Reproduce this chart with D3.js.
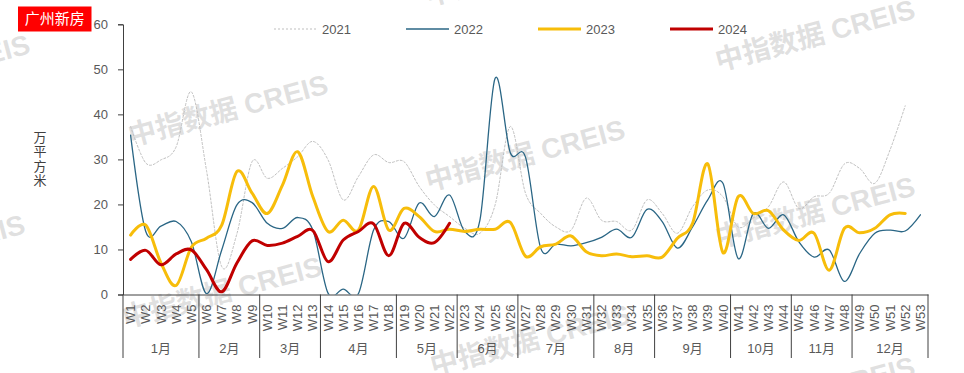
<!DOCTYPE html>
<html>
<head>
<meta charset="utf-8">
<script src="https://cdn.jsdelivr.net/npm/d3@7"></script>
<style>
body { margin: 0; background: #fff; }
svg text { font-family: "Liberation Sans", "Noto Sans CJK SC", sans-serif; }
</style>
</head>
<body>
<svg></svg>
<script>
// weekly new-home sales area, 万平方米
var weeks = d3.range(1, 54).map(function(i){ return 'W' + i; });

var months = [
  {name: '1月', from: 1, to: 5}, {name: '2月', from: 6, to: 9}, {name: '3月', from: 10, to: 13},
  {name: '4月', from: 14, to: 18}, {name: '5月', from: 19, to: 22}, {name: '6月', from: 23, to: 26},
  {name: '7月', from: 27, to: 31}, {name: '8月', from: 32, to: 35}, {name: '9月', from: 36, to: 40},
  {name: '10月', from: 41, to: 44}, {name: '11月', from: 45, to: 48}, {name: '12月', from: 49, to: 53}
];

var yTicks = [0, 10, 20, 30, 40, 50, 60];

var v2021 = [37.3, 29.2, 29.9, 32.8, 45, 27.5, 6.2, 13.5, 29.5, 25.8, 28, 30.6, 34, 29.9, 21, 26.2, 31, 29.3,
  29.5, 24, 19.9, 17.3, 14.7, 13.6, 19.9, 37.3, 22.5, 18, 15, 14.3, 21.4, 16.5, 16.2, 14.3, 21, 18, 13.6,
  19.5, 23.2, 21.7, 15, 17, 19.5, 25, 19.1, 21.7, 22.5, 29, 28, 24.7, 32.1, 41.9];

var v2022 = [35.4, 14, 15.2, 16.2, 11.7, 0.2, 9.9, 19.9, 20.4, 15.8, 14.7, 17.1, 14.3, 0.3, 1.2, 0.2, 14.3, 16.2,
  12.5, 20.3, 17.3, 22.1, 14, 16.5, 48, 31.5, 30.5, 10.3, 11.2, 10.8, 11.5, 12.7, 14.5, 12.7, 18.9, 16.2,
  10.3, 15, 21, 24.7, 8, 18, 14.7, 17.7, 11.7, 8.3, 9.9, 2.9, 9.1, 13.6, 14.3, 14.1, 17.7];

var v2023 = [13.2, 15.4, 7, 2, 10.5, 12.5, 15.4, 27.3, 22.5, 18, 24.3, 31.7, 21.7, 14, 16.5, 14.3, 24, 14.3,
  19.1, 17.3, 14, 14.5, 14, 14.5, 14.5, 16, 8.5, 10.6, 11.2, 13, 9.5, 8.6, 9, 8.4, 8.6, 8.3, 12.5, 15.8,
  29, 9.3, 21.7, 18, 18.6, 14.3, 12, 13.6, 5.4, 14.7, 13.7, 14.7, 17.7, 18];

var v2024 = [7.8, 9.8, 6.6, 9, 9.9, 5.5, 0.6, 7, 11.9, 10.9, 11.4, 12.9, 14.2, 7.3, 12.1, 14, 15.7, 8.6,
  15.8, 12.7, 11.5, 15.8];

var series = [
  {name: '2021', values: v2021, color: '#bfbfbf', width: 1, dash: '2,2'},
  {name: '2022', values: v2022, color: '#2a6685', width: 1.3, dash: null},
  {name: '2023', values: v2023, color: '#f7bd0a', width: 3, dash: null},
  {name: '2024', values: v2024, color: '#c00000', width: 3, dash: null}
];

var svgWidth = 964, svgHeight = 373;
var plotLeft = 123, plotRight = 928, plotTop = 24.3, plotBottom = 294.5;

var svg = d3.select('svg')
.attr('width', svgWidth)
.attr('height', svgHeight);

var xScale = d3.scaleBand()
.domain(weeks)
.range([plotLeft, plotRight])
.padding(0);

var yScale = d3.scaleLinear()
.domain([0, 60])
.range([plotBottom, plotTop]);

// clip like the plot area
svg.append('clipPath').attr('id', 'plot')
.append('rect')
.attr('x', plotLeft).attr('y', 0)
.attr('width', 940 - plotLeft).attr('height', plotBottom);

// watermark (under the marks)
var marks = [[-70, 70], [-75, 250], [228, 110], [222, 292], [525, -30], [525, 155], [530, 340], [815, 35], [815, 212], [815, 392]];
svg.append('g')
.attr('pointer-events', 'none')
.selectAll('text')
.data(marks)
.enter()
.append('text')
.attr('transform', function(d){ return 'translate(' + d[0] + ',' + d[1] + ') rotate(-15)'; })
.attr('text-anchor', 'middle')
.attr('dy', '0.35em')
.attr('font-size', 28)
.attr('font-weight', 'bold')
.attr('fill', '#a6a6a6')
.attr('fill-opacity', 0.35)
.text('中指数据 CREIS');

// y axis
var y_axis = d3.axisLeft(yScale)
.tickValues(yTicks)
.tickSize(5)
.tickPadding(10);

var gy = svg.append('g')
.attr('transform', 'translate(' + plotLeft + ',0)')
.call(y_axis);
gy.select('.domain').attr('stroke', '#404040');
gy.selectAll('.tick line').attr('stroke', '#404040');
gy.selectAll('.tick text').attr('font-size', 13).attr('fill', '#595959')
.attr('font-family', '"Liberation Sans", sans-serif');

// x axis with rotated week labels
var x_axis = d3.axisBottom(xScale).tickSize(0).tickPadding(0);

var gx = svg.append('g')
.attr('transform', 'translate(0,' + plotBottom + ')')
.call(x_axis);
gx.select('.domain').attr('stroke', '#404040');
gx.selectAll('.tick text')
.attr('font-size', 13)
.attr('fill', '#595959')
.attr('transform', 'rotate(-90)')
.attr('x', -10)
.attr('y', 0)
.attr('dy', '0.35em')
.attr('text-anchor', 'end');

// month groups under the weeks
var sep = [months[0].from].concat(months.map(function(m){ return m.to + 1; }));
svg.selectAll('line.sep')
.data(sep)
.enter()
.append('line')
.attr('class', 'sep')
.attr('x1', function(d){ return d > 53 ? plotRight : xScale('W' + d); })
.attr('x2', function(d){ return d > 53 ? plotRight : xScale('W' + d); })
.attr('y1', plotBottom)
.attr('y2', 358)
.attr('stroke', '#404040')
.attr('stroke-width', 1);

svg.selectAll('text.month')
.data(months)
.enter()
.append('text')
.attr('class', 'month')
.attr('x', function(m){ return (xScale('W' + m.from) + xScale('W' + m.to) + xScale.bandwidth()) / 2; })
.attr('y', 353)
.attr('text-anchor', 'middle')
.attr('font-size', 13)
.attr('fill', '#595959')
.text(function(m){ return m.name; });

// lines
var line = d3.line()
.defined(function(d){ return d != null; })
.x(function(d, i){ return xScale(weeks[i]) + xScale.bandwidth() / 2; })
.y(function(d){ return yScale(d); })
.curve(d3.curveCardinal.tension(0));

svg.append('g')
.attr('clip-path', 'url(#plot)')
.selectAll('path')
.data(series)
.enter()
.append('path')
.attr('d', function(s){ return line(s.values); })
.attr('fill', 'none')
.attr('stroke', function(s){ return s.color; })
.attr('stroke-width', function(s){ return s.width; })
.attr('stroke-dasharray', function(s){ return s.dash; })
.attr('stroke-linejoin', 'round')
.attr('stroke-linecap', 'round');

// legend
var legend = svg.selectAll('g.legend')
.data(series)
.enter()
.append('g')
.attr('class', 'legend')
.attr('transform', function(d, i){ return 'translate(' + (274 + i * 132) + ',29)'; });

legend.append('line')
.attr('x1', 0).attr('x2', 43)
.attr('stroke', function(s){ return s.color; })
.attr('stroke-width', function(s){ return s.name == '2021' ? 1 : (s.name == '2022' ? 1.6 : 3); })
.attr('stroke-dasharray', function(s){ return s.dash; });

legend.append('text')
.attr('x', 48)
.attr('dy', '0.35em')
.attr('font-size', 13)
.attr('fill', '#595959')
.text(function(s){ return s.name; });

// title tag
svg.append('rect')
.attr('x', 18).attr('y', 6.5)
.attr('width', 73.5).attr('height', 25)
.attr('fill', '#ff0000');
svg.append('text')
.attr('x', 54.75).attr('y', 19)
.attr('dy', '0.36em')
.attr('text-anchor', 'middle')
.attr('font-size', 15)
.attr('fill', '#fff')
.text('广州新房');

// unit label, stacked characters
svg.selectAll('text.unit')
.data(['万', '平', '方', '米'])
.enter()
.append('text')
.attr('class', 'unit')
.attr('x', 40)
.attr('y', function(d, i){ return 137 + i * 14.6; })
.attr('dy', '0.36em')
.attr('text-anchor', 'middle')
.attr('font-size', 13)
.attr('fill', '#404040')
.text(function(d){ return d; });
</script>
</body>
</html>
